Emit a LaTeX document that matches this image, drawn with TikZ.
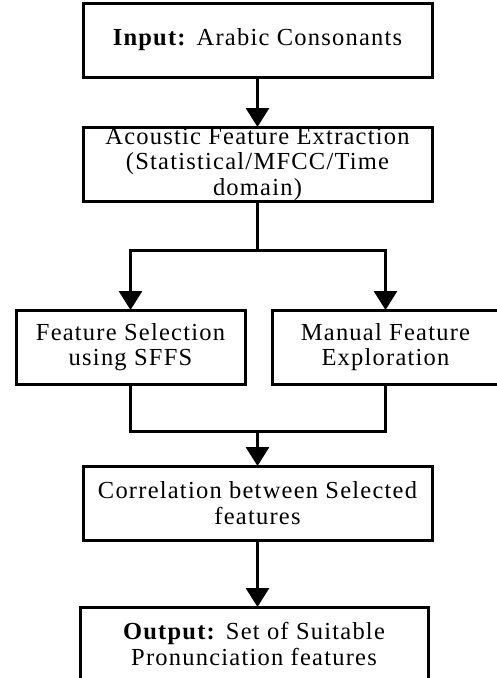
\documentclass[tikz,border=0pt]{standalone}
\usepackage{fontspec}
\setmainfont{Liberation Serif}[LetterSpace=5]
\usetikzlibrary{arrows.meta}
\begin{document}
\begin{tikzpicture}[x=1pt,y=1pt,
  box/.style={draw=black, line width=3pt, rectangle, inner sep=0pt, outer sep=0pt,
    minimum height=74pt, align=center,
    font=\fontsize{24.5}{25.5}\selectfont},
  line/.style={draw=black, line width=3pt},
  arr/.style={line, -{Triangle[width=23pt,length=19pt]}}]
\useasboundingbox (0,0) rectangle (497,-678);

\node[box, minimum width=349pt] (in)   at (257.5,-40)  {\textbf{Input:} Arabic Consonants};
\node[box, minimum width=349pt] (ext)  at (257.5,-164) {Acoustic Feature Extraction\\(Statistical/MFCC/Time\\domain)};
\node[box, minimum width=229pt] (sel)  at (130.5,-347) {Feature Selection\\using SFFS};
\node[box, minimum width=227pt] (man)  at (385.5,-347) {Manual Feature\\Exploration};
\node[box, minimum width=349pt] (corr) at (257.5,-503) {Correlation between Selected\\features};
\node[box, minimum width=348pt] (out)  at (254,-644)   {\textbf{Output:} Set of Suitable\\Pronunciation features};

\coordinate (split) at (257.5,-250);
\coordinate (join)  at (257.5,-431);

\draw[arr] (in.south) -- (ext.north);
\draw[line] (ext.south) -- (split);
\draw[arr] (split) -| (sel.north);
\draw[arr] (split) -| (man.north);
\draw[line] (sel.south) |- (join);
\draw[line] (man.south) |- (join);
\draw[arr] (join) -- (corr.north);
\draw[arr] (corr.south) -- (corr.south |- out.north);
\end{tikzpicture}
\end{document}
